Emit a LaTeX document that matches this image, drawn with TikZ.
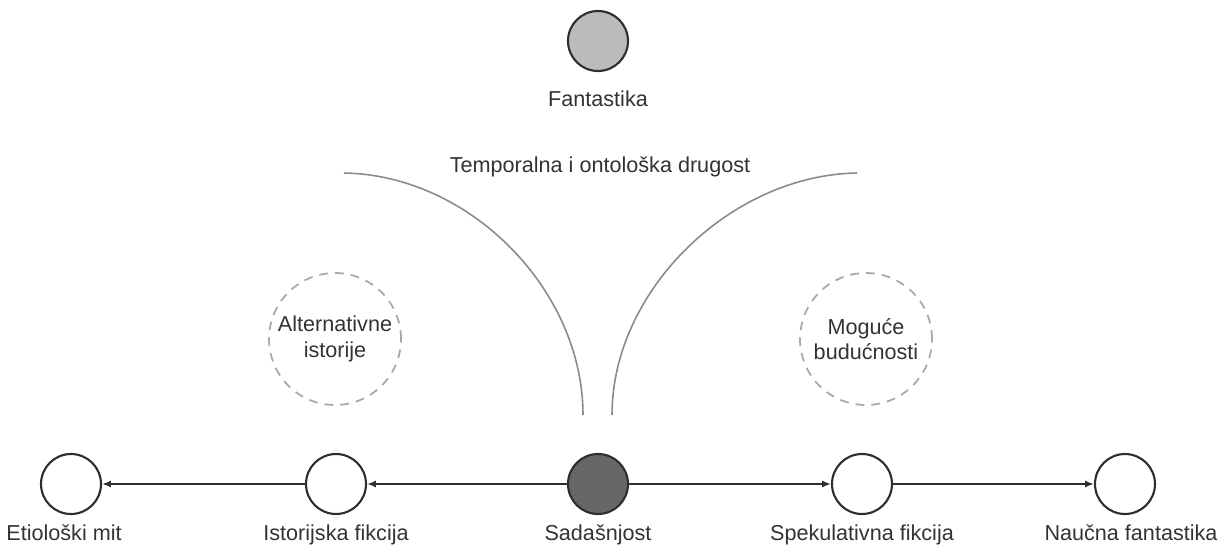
\documentclass[tikz,border=0pt]{standalone}
\usepackage{fontspec}
\setmainfont{Liberation Sans}
\usetikzlibrary{arrows.meta}
\definecolor{txt}{HTML}{333333}
\definecolor{ln}{HTML}{2E2E2E}
\definecolor{curvec}{HTML}{8A8A8A}
\definecolor{dashc}{HTML}{A8A8A8}
\definecolor{lightfill}{HTML}{BBBBBB}
\definecolor{darkfill}{HTML}{676767}
\begin{document}
\begin{tikzpicture}[x=0.02cm,y=-0.02cm,
  every node/.style={font=\fontsize{12.3}{14.5}\selectfont, text=txt},
  station/.style={circle, draw=ln, line width=1.2pt, minimum size=1.2cm, inner sep=0pt, fill=white},
  lbl/.style={inner sep=0pt, anchor=base},
  dashcirc/.style={circle, draw=dashc, dashed, dash pattern=on 5pt off 4pt, line width=1pt, minimum size=2.64cm, inner sep=0pt, align=center},
  conn/.style={draw=ln, line width=1.1pt, -{Latex[length=5pt,width=4pt]}},
  curve/.style={draw=curvec, line width=0.9pt}]
\useasboundingbox (0,0) rectangle (1221,549);
% top node
\node[station, fill=lightfill] (fan) at (598,41) {};
\node[lbl] (fanl) at (598,106) {Fantastika};
\node[lbl] (title) at (600,172) {Temporalna i ontološka drugost};
% bottom nodes
\node[station] (eti) at (71,484) {};
\node[station] (ist) at (336,484) {};
\node[station, fill=darkfill] (sad) at (598,484) {};
\node[station] (spe) at (862,484) {};
\node[station] (nau) at (1125,484) {};
\node[lbl] at (64,540) {Etiološki mit};
\node[lbl] at (336,540) {Istorijska fikcija};
\node[lbl] at (598,540) {Sadašnjost};
\node[lbl] at (862,540) {Spekulativna fikcija};
\node[lbl] at (1131,540) {Naučna fantastika};
% dashed circles
\node[dashcirc] (alt) at (335,339) {Alternativne\\istorije};
\node[dashcirc] (mog) at (866,339) {Moguće\\budućnosti};
% curves
\coordinate (lb) at (583,415);
\coordinate (lt) at (344,173);
\coordinate (rb) at (612,415);
\coordinate (rt) at (857,173);
\draw[curve] (lb) .. controls (583,290) and (470,175) .. (lt);
\draw[curve] (rb) .. controls (612,290) and (731,175) .. (rt);
% arrows
\draw[conn] (ist) -- (eti);
\draw[conn] (sad) -- (ist);
\draw[conn] (sad) -- (spe);
\draw[conn] (spe) -- (nau);
\end{tikzpicture}
\end{document}
